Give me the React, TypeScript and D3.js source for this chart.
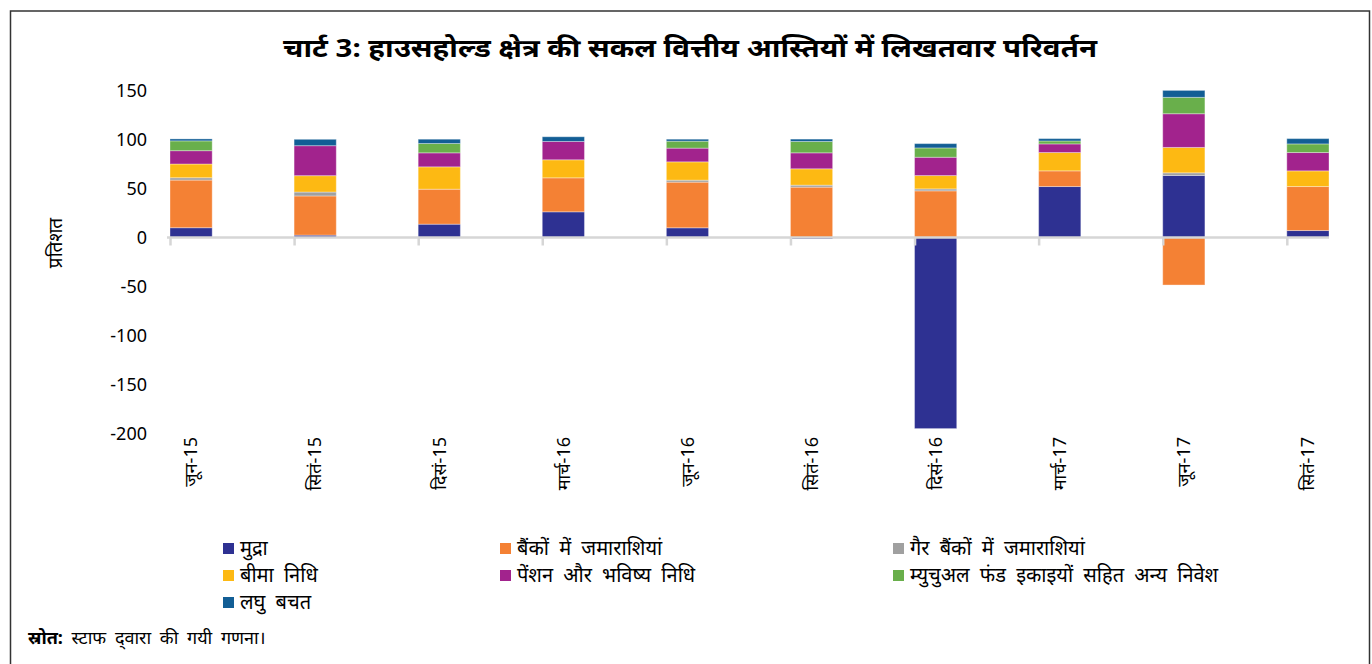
import React from "react";
import * as d3 from "d3";

const categories = ["जून-15", "सितं-15", "दिसं-15", "मार्च-16", "जून-16", "सितं-16", "दिसं-16", "मार्च-17", "जून-17", "सितं-17"];
const seriesNames = [
  "मुद्रा",
  "बैंकों में जमाराशियां",
  "गैर बैंकों में जमाराशियां",
  "बीमा निधि",
  "पेंशन और भविष्य निधि",
  "म्युचुअल फंड इकाइयों सहित अन्य निवेश",
  "लघु बचत",
];
const mudra = [10, 2.4, 13.6, 26.2, 9.9, -1.5, -195, 52, 63.3, 7.1];
const banks = [48.6, 40, 35.7, 34.7, 46.6, 51.4, 47.6, 16, -48.5, 44.9];
const nonBanks = [2.4, 4, 0, 0, 2, 2, 2, 0, 2.7, 0];
const insurance = [14, 16.7, 22.8, 18.4, 18.7, 16.7, 13.6, 18.7, 25.9, 16];
const pension = [13.6, 30.6, 14.3, 18.7, 14, 16.3, 18.7, 8.8, 34.4, 18.7];
const mutualFunds = [10, 0, 9.5, 0, 7.1, 11.6, 9.5, 3, 16.7, 8.8];
const smallSavings = [2, 6.5, 4.4, 4.8, 2, 2.4, 4.4, 2.4, 7.1, 5.4];
const yTicks = [150, 100, 50, 0, -50, -100, -150, -200];

const colors = ["#2E3192", "#F48134", "#A0A0A0", "#FDB913", "#A2238D", "#69AF4B", "#125E95"];

const FONT = "'Noto Sans', 'Noto Sans Devanagari', sans-serif";

export default function App() {
  const allSeries = [mudra, banks, nonBanks, insurance, pension, mutualFunds, smallSavings];
  const rows = categories.map((c, i) => {
    const r: any = { cat: c };
    seriesNames.forEach((s, j) => (r[s] = allSeries[j][i]));
    return r;
  });
  const stacked = d3.stack<any>().keys(seriesNames).offset(d3.stackOffsetDiverging)(rows);

  const x = d3.scaleBand<string>().domain(categories).range([170, 1329]).paddingInner(0.66).paddingOuter(0).align(0);
  const y = d3.scaleLinear().domain([-200, 150]).range([433.5, 90.5]);

  const legendCols = [223, 500, 893];
  const legendRows = [548, 575, 602];

  return (
    <div style={{ position: "absolute", left: 0, top: 0 }}>
      <svg width={1372} height={664} style={{ display: "block", fontFamily: FONT }}>
        <rect x={0} y={0} width={1372} height={664} fill="#fff" />
        <rect x={10.5} y={11} width={1359} height={700} fill="none" stroke="#333" strokeWidth={1.5} />
        <text x={690} y={57} textAnchor="middle" fontSize={25} fontWeight="bold" textLength={814} lengthAdjust="spacingAndGlyphs" fill="#000">
          चार्ट 3: हाउसहोल्ड क्षेत्र की सकल वित्तीय आस्तियों में लिखतवार परिवर्तन
        </text>

        {/* y tick labels */}
        {yTicks.map((t) => (
          <text key={t} x={147} y={y(t)} dy="0.35em" textAnchor="end" fontSize={18} fill="#000">
            {t}
          </text>
        ))}
        <text transform={`translate(62,243) rotate(-90)`} textAnchor="middle" fontSize={19} fill="#000">
          प्रतिशत
        </text>

        {/* bars */}
        {stacked.map((layer, j) => (
          <g key={layer.key} fill={colors[j]}>
            {layer.map((d, i) => {
              const y0 = y(Math.max(d[0], d[1]));
              const y1 = y(Math.min(d[0], d[1]));
              if (y1 - y0 <= 0) return null;
              return (
                <rect
                  key={i}
                  x={x(categories[i])}
                  y={y0}
                  width={x.bandwidth()}
                  height={y1 - y0}
                  stroke="#ffffff"
                  strokeOpacity={0.35}
                  strokeWidth={1}
                />
              );
            })}
          </g>
        ))}

        {/* x axis */}
        <line x1={167} x2={1329} y1={y(0)} y2={y(0)} stroke="#D6D6D6" strokeWidth={2.5} />
        {categories.map((c) => (
          <line key={c} x1={(x(c) as number) + 0.5} x2={(x(c) as number) + 0.5} y1={y(0)} y2={y(0) + 8} stroke="#D6D6D6" strokeWidth={2.5} />
        ))}
        {categories.map((c) => (
          <text
            key={c}
            transform={`translate(${(x(c) as number) + x.bandwidth() / 2},437) rotate(-90)`}
            textAnchor="end"
            dy="0.35em"
            fontSize={18}
            fill="#000"
          >
            {c}
          </text>
        ))}

        {/* legend */}
        {seriesNames.map((s, j) => {
          const cx = legendCols[j % 3];
          const cy = legendRows[Math.floor(j / 3)];
          return (
            <g key={s}>
              <rect x={cx} y={cy - 5} width={11} height={11} fill={colors[j]} />
              <text x={cx + 17} y={cy} dy="0.35em" fontSize={20} wordSpacing={5} fill="#000">
                {s}
              </text>
            </g>
          );
        })}

        {/* source */}
        <text x={28} y={638} dy="0.35em" fontSize={18} wordSpacing={4} fill="#000">
          <tspan fontWeight="bold">स्रोत:</tspan>
          <tspan> स्टाफ द्‌वारा की गयी गणना।</tspan>
        </text>
      </svg>
    </div>
  );
}
